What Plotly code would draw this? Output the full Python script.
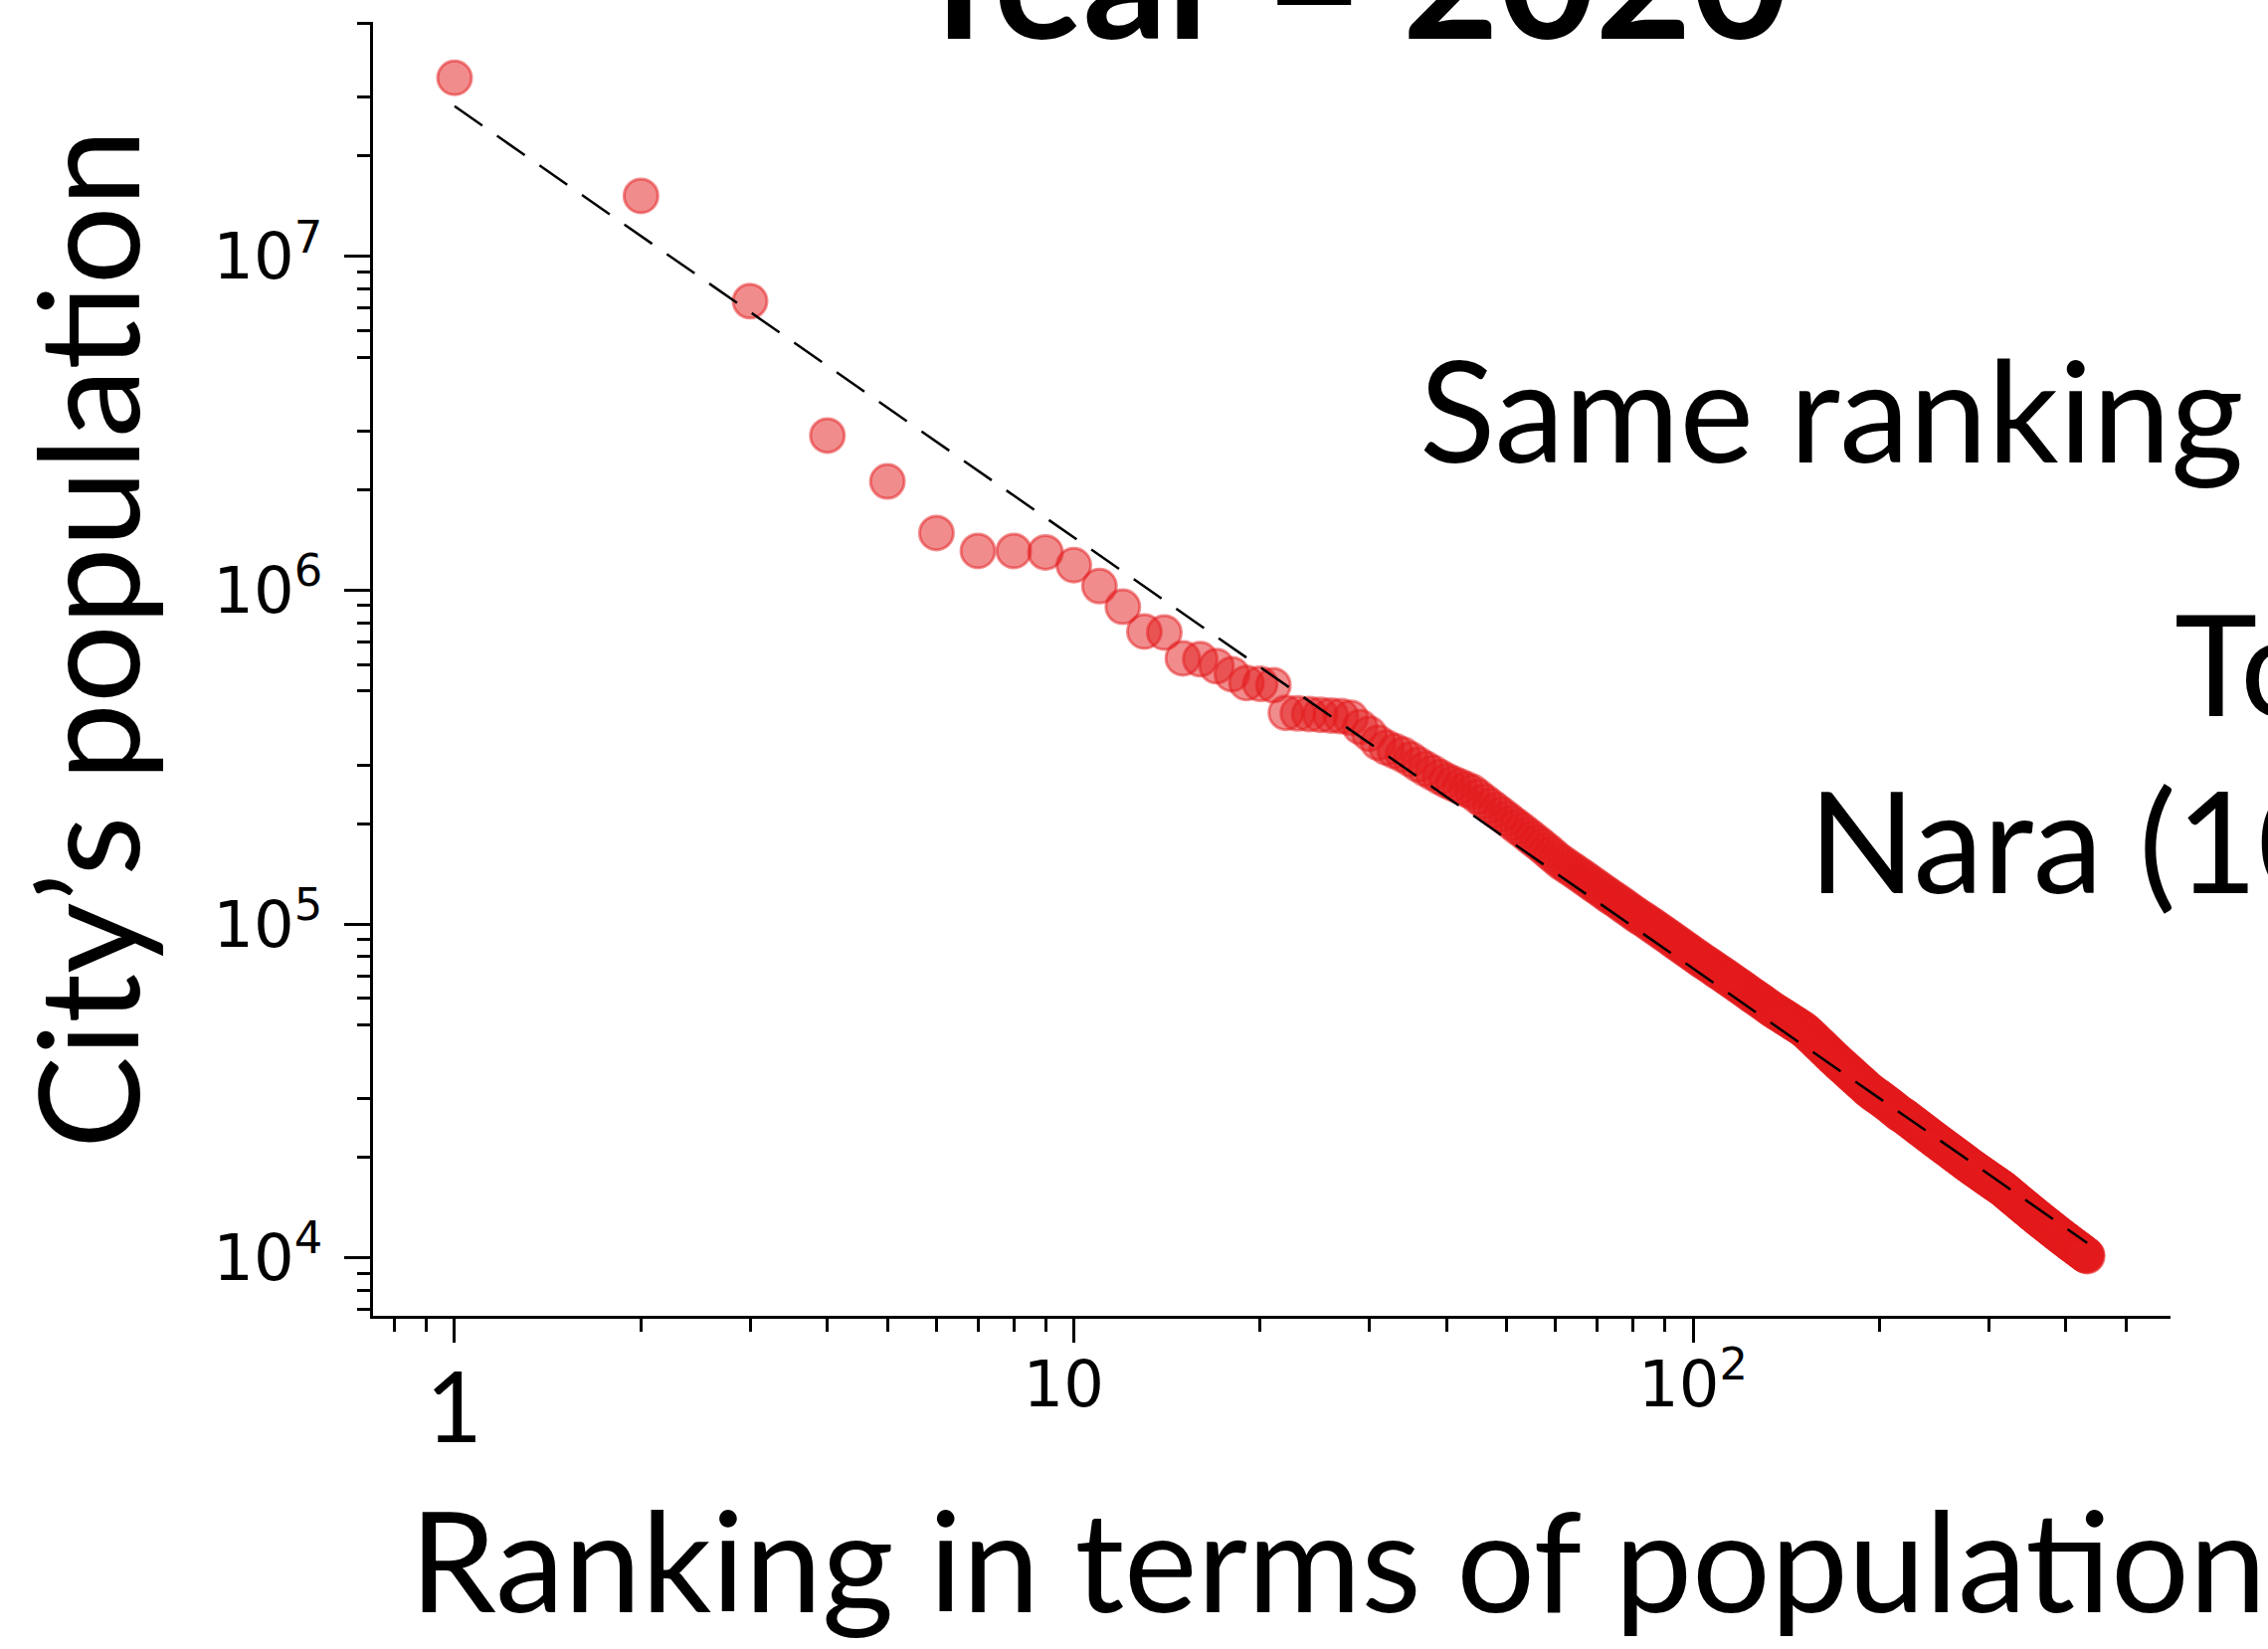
import plotly.graph_objects as go

# ---------------- data ----------------
# city populations in thousands, ordered by rank (rank 1 = largest)
pop_thousands = [
    34300, 15200, 7350, 2910, 2120, 1486, 1313, 1313, 1300, 1190,
    1030, 893, 753, 748, 626, 622, 593, 561, 528, 525,
    520, 430, 428, 426, 424, 422, 420, 415, 390, 372,
    350, 338, 330, 322, 312, 301, 292, 284, 276, 269,
    263.6, 258.5, 253.6, 248.9, 241.0, 233.5, 226.4, 219.6, 213.5, 207.3,
    201.4, 195.8, 190.8, 185.6, 180.6, 175.9, 171.4, 166.8, 162.4, 158.1,
    154.0, 151.1, 148.0, 145.1, 142.2, 139.5, 136.8, 134.1, 131.5, 129.1,
    126.7, 124.4, 122.2, 120.0, 118.1, 116.1, 114.1, 112.2, 110.3, 108.5,
    106.7, 105.0, 103.7, 102.1, 100.6, 99.1, 97.6, 96.2, 94.8, 93.4,
    92.1, 90.8, 89.4, 88.2, 87.0, 85.8, 84.6, 83.5, 82.4, 81.3,
    80.2, 79.2, 78.2, 77.2, 76.4, 75.5, 74.6, 73.7, 72.8, 72.0,
    71.2, 70.4, 69.6, 68.8, 68.0, 67.3, 66.5, 65.8, 65.1, 64.4,
    63.7, 63.0, 62.3, 61.6, 61.0, 60.4, 59.8, 59.2, 58.6, 58.0,
    57.4, 56.8, 56.2, 55.7, 55.2, 54.7, 54.2, 53.8, 53.3, 52.9,
    52.4, 52.0, 51.6, 51.1, 50.7, 50.3, 49.9, 49.5, 49.1, 48.7,
    48.3, 47.8, 47.3, 46.7, 46.2, 45.7, 45.2, 44.6, 44.1, 43.7,
    43.2, 42.7, 42.2, 41.8, 41.3, 40.9, 40.4, 40.0, 39.6, 39.2,
    38.8, 38.4, 38.0, 37.7, 37.3, 37.0, 36.6, 36.3, 35.9, 35.6,
    35.3, 34.9, 34.6, 34.3, 34.0, 33.7, 33.4, 33.1, 32.8, 32.5,
    32.2, 31.9, 31.7, 31.5, 31.2, 31.0, 30.8, 30.6, 30.4, 30.2,
    30.0, 29.8, 29.6, 29.4, 29.2, 29.0, 28.8, 28.6, 28.4, 28.2,
    28.0, 27.8, 27.6, 27.4, 27.2, 27.0, 26.9, 26.8, 26.63, 26.46,
    26.29, 26.12, 25.95, 25.79, 25.63, 25.47, 25.31, 25.15, 25.00, 24.84,
    24.69, 24.54, 24.39, 24.24, 24.10, 23.95, 23.81, 23.67, 23.53, 23.39,
    23.25, 23.12, 22.98, 22.85, 22.72, 22.59, 22.46, 22.34, 22.21, 22.09,
    21.97, 21.85, 21.73, 21.61, 21.50, 21.38, 21.27, 21.15, 21.04, 20.93,
    20.82, 20.71, 20.60, 20.49, 20.39, 20.28, 20.18, 20.07, 19.97, 19.87,
    19.77, 19.67, 19.57, 19.47, 19.37, 19.27, 19.17, 19.07, 18.98, 18.88,
    18.79, 18.70, 18.62, 18.53, 18.45, 18.36, 18.28, 18.20, 18.12, 18.04,
    17.96, 17.88, 17.80, 17.72, 17.64, 17.56, 17.48, 17.41, 17.33, 17.26,
    17.18, 17.11, 17.04, 16.97, 16.90, 16.83, 16.76, 16.69, 16.62, 16.55,
    16.48, 16.42, 16.35, 16.29, 16.22, 16.16, 16.08, 16.00, 15.92, 15.84,
    15.76, 15.69, 15.61, 15.54, 15.46, 15.39, 15.31, 15.24, 15.17, 15.10,
    15.03, 14.96, 14.89, 14.82, 14.75, 14.68, 14.61, 14.55, 14.48, 14.42,
    14.35, 14.29, 14.22, 14.16, 14.10, 14.04, 13.97, 13.91, 13.85, 13.79,
    13.73, 13.67, 13.61, 13.55, 13.50, 13.44, 13.38, 13.32, 13.27, 13.21,
    13.16, 13.10, 13.05, 13.00, 12.94, 12.89, 12.84, 12.79, 12.74, 12.69,
    12.64, 12.59, 12.54, 12.49, 12.44, 12.39, 12.34, 12.29, 12.25, 12.20,
    12.15, 12.11, 12.06, 12.01, 11.97, 11.92, 11.88, 11.83, 11.79, 11.75,
    11.70, 11.66, 11.62, 11.57, 11.53, 11.49, 11.45, 11.41, 11.37, 11.33,
    11.29, 11.25, 11.21, 11.17, 11.13, 11.09, 11.05, 11.02, 10.98, 10.94,
    10.91, 10.87, 10.84, 10.80, 10.76, 10.73, 10.69, 10.66, 10.62, 10.59,
    10.55, 10.52, 10.48, 10.45, 10.41, 10.38, 10.35, 10.31, 10.28, 10.24,
    10.21, 10.18, 10.14,
]
population = [v * 1000 for v in pop_thousands]
rank = list(range(1, len(population) + 1))

# dashed power-law fit, endpoints
fit_rank = [1, 433]
fit_pop = [28200000, 11100]

# tick values / labels
x_major = [1, 10, 100]
x_major_text = ["", "10\u00a0", "10<sup>2</sup>"]
x_minor = [0.8, 0.9, 2, 3, 4, 5, 6, 7, 8, 9,
           20, 30, 40, 50, 60, 70, 80, 90, 200, 300, 400, 500]
y_major = [1e4, 1e5, 1e6, 1e7]
y_major_text = ["10<sup>4</sup>", "10<sup>5</sup>", "10<sup>6</sup>", "10<sup>7</sup>"]
y_minor = [7e3, 8e3, 9e3,
           2e4, 3e4, 5e4, 6e4, 7e4, 8e4, 9e4,
           2e5, 3e5, 5e5, 6e5, 7e5, 8e5, 9e5,
           2e6, 3e6, 5e6, 6e6, 7e6, 8e6, 9e6,
           2e7, 3e7, 5e7]

title_text = "Year = 2020"
x_title = "Ranking in terms of population"
y_title = "City’s population"
notes = ["Same ranking", "To", "Nara (10"]

# ---------------- layout geometry (pixels) ----------------
W, H = 2280, 1658
L, R, T, B = 375, 2182, 22, 1323   # plot area edges


def px(xp):
    return (xp - L) / (R - L)


def py(yp):
    return (B - yp) / (B - T)


RED = "rgba(228,26,28,0.5)"
MAIN = "Lato"
TICKF = "DejaVu Sans"

fig = go.Figure()
fig.add_trace(go.Scatter(
    x=rank, y=population, mode="markers",
    marker=dict(size=34, color=RED, line=dict(width=3, color=RED)),
    showlegend=False, hoverinfo="skip"))
fig.add_trace(go.Scatter(
    x=fit_rank, y=fit_pop, mode="lines",
    line=dict(color="black", width=2.5, dash="34px,18px"),
    showlegend=False, hoverinfo="skip"))

fig.update_xaxes(
    type="log", range=[-0.1317, 2.771],
    showline=True, linecolor="black", linewidth=3, mirror=False,
    showgrid=False, zeroline=False,
    ticks="outside", tickmode="array", tickvals=x_major, ticktext=x_major_text,
    ticklen=24, tickwidth=3, tickcolor="black",
    tickfont=dict(family=TICKF, size=64, color="black"),
    ticklabelstandoff=-13,
    minor=dict(tickmode="array", tickvals=x_minor, ticks="outside",
               ticklen=13, tickwidth=2.5, tickcolor="black", showgrid=False),
)
fig.update_yaxes(
    type="log", range=[3.827, 7.703],
    showline=True, linecolor="black", linewidth=3, mirror=False,
    showgrid=False, zeroline=False,
    ticks="outside", tickmode="array", tickvals=y_major, ticktext=y_major_text,
    ticklen=26, tickwidth=3, tickcolor="black",
    tickfont=dict(family=TICKF, size=64, color="black"),
    ticklabelstandoff=9,
    minor=dict(tickmode="array", tickvals=y_minor, ticks="outside",
               ticklen=13, tickwidth=2.5, tickcolor="black", showgrid=False),
)

ann = []
# title (cut at the top of the canvas)
ann.append(dict(text="<b>" + title_text + "</b>", xref="paper", yref="paper",
                x=px(1353), y=py(77), xanchor="center", yanchor="bottom",
                showarrow=False, font=dict(family=MAIN, size=167, color="black")))
# x axis title
ann.append(dict(text=x_title, xref="paper", yref="paper",
                x=px(1345), y=py(1653), xanchor="center", yanchor="bottom",
                showarrow=False, font=dict(family=MAIN, size=139, color="black")))
# y axis title
ann.append(dict(text=y_title, xref="paper", yref="paper", textangle=-90,
                x=px(86), y=py(643), xanchor="center", yanchor="middle",
                showarrow=False, font=dict(family=MAIN, size=139, color="black")))
# the "1" tick label on the x axis, drawn in the text font
ann.append(dict(text="1", xref="x", yref="paper", x=0, y=py(1473),
                xanchor="center", yanchor="bottom", showarrow=False,
                font=dict(family=MAIN, size=98, color="black")))
# notes on the right (cut at the right edge of the canvas)
note_pos = [(1425, 497), (2184, 752), (1816, 930)]
for txt, (xx, yy) in zip(notes, note_pos):
    ann.append(dict(text=txt, xref="paper", yref="paper",
                    x=px(xx), y=py(yy), xanchor="left", yanchor="bottom",
                    showarrow=False, font=dict(family=MAIN, size=141, color="black")))

fig.update_layout(
    width=W, height=H,
    margin=dict(l=L, r=W - R, t=T, b=H - B, pad=0),
    paper_bgcolor="white", plot_bgcolor="white",
    font=dict(family=MAIN, color="black"),
    annotations=ann, showlegend=False,
)

fig.write_html("out.html")
